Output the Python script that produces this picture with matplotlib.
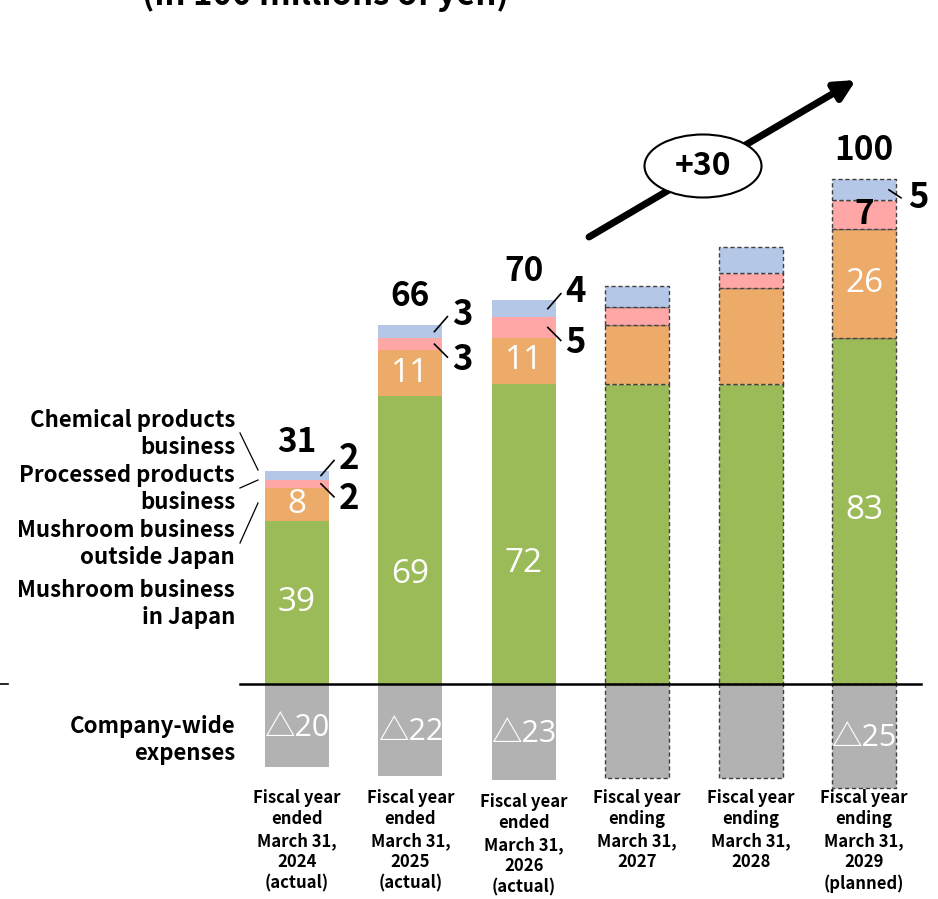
import matplotlib
matplotlib.use("Agg")
import matplotlib.pyplot as plt
from matplotlib.patches import Ellipse

plt.rcParams['font.family'] = ['Open Sans', 'Noto Sans CJK JP', 'DejaVu Sans']
BOLD = ['Noto Sans CJK JP', 'DejaVu Sans']

# data (in 100 millions of yen)
years = ["Fiscal year\nended\nMarch 31,\n2024\n(actual)",
         "Fiscal year\nended\nMarch 31,\n2025\n(actual)",
         "Fiscal year\nended\nMarch 31,\n2026\n(actual)",
         "Fiscal year\nending\nMarch 31,\n2027",
         "Fiscal year\nending\nMarch 31,\n2028",
         "Fiscal year\nending\nMarch 31,\n2029\n(planned)"]
mushroom_japan = [39, 69, 72, 72, 72, 83]
mushroom_abroad = [8, 11, 11, 14, 23, 26]
processed = [2, 3, 5, 4.5, 3.6, 7]
chemical = [2, 3, 4, 5, 6.2, 5]
expenses = [20, 22, 23, 22.5, 22.5, 25]
totals = [31, 66, 70, None, None, 100]
show_labels = [True, True, True, False, False, True]
planned = [False, False, False, True, True, True]

GREEN = "#9BBB59"
ORANGE = "#EDAB69"
PINK = "#FFA6A6"
BLUE = "#B4C7E7"
GRAY = "#B2B2B2"

# pixel helpers (figure is 938x899, baseline at y=684)
PXU = 4.17      # pixels per unit
XSTEP = 113.4   # pixels between bars
def dx(p):
    return p / XSTEP
def dy(p):
    return p / PXU
def pos(xp, yp):
    return ((xp - 297) / XSTEP, (684 - yp) / PXU)

fig = plt.figure(figsize=(9.38, 8.99), dpi=100)
ax = fig.add_axes([0, 0, 1, 1])
ax.set_xlim(-297 / XSTEP, (938 - 297) / XSTEP)
ax.set_ylim(-(899 - 684) / PXU, 684 / PXU)
ax.axis('off')

x = list(range(len(years)))
w = 64 / XSTEP

for i in x:
    if planned[i]:
        ek = dict(edgecolor="#404040", linestyle=(0, (3, 2)), linewidth=1.0)
    else:
        ek = dict(edgecolor="none", linewidth=0)
    bottom = 0
    for vals, col in [(mushroom_japan, GREEN), (mushroom_abroad, ORANGE),
                      (processed, PINK), (chemical, BLUE)]:
        ax.bar(i, vals[i], w, bottom=bottom, color=col, zorder=2, **ek)
        bottom += vals[i]
    ax.bar(i, -expenses[i], w, color=GRAY, zorder=2, **ek)

# baseline
ax.plot([pos(240, 0)[0], pos(921, 0)[0]], [0, 0], color="black", lw=1.8, zorder=3)
ax.plot([pos(0, 0)[0], pos(8, 0)[0]], [0, 0], color="black", lw=1.2, zorder=3)

green_pos = [0.5, 0.38, 0.4, 0.5, 0.5, 0.5]
for i in x:
    if not show_labels[i]:
        continue
    g, o, p, c = mushroom_japan[i], mushroom_abroad[i], processed[i], chemical[i]
    top = g + o + p + c
    ax.text(i, g * green_pos[i], f"{g}", ha="center", va="center", color="white",
            fontsize=24, zorder=4)
    ax.text(i, g + o / 2, f"{o}", ha="center", va="center", color="white",
            fontsize=24, zorder=4)
    ax.text(i, -expenses[i] / 2 - dy(2), f"△{expenses[i]}", ha="center", va="center",
            color="white", fontsize=22, zorder=4)
    ax.text(i, top + dy(29), f"{totals[i]}", ha="center", va="center",
            fontsize=24, fontweight="bold", family=BOLD, zorder=4)
    right = i + w / 2
    cy = g + o + p + c / 2
    py = g + o + p / 2
    if i == 5:
        ax.text(i, py, f"{p}", ha="center", va="center", fontsize=24,
                fontweight="bold", family=BOLD, zorder=4)
        ax.plot([right - dx(7), right + dx(5)], [cy, cy - dy(8)], color="black", lw=1.2, zorder=4)
        ax.text(right + dx(22), cy - dy(8), f"{c}", ha="center", va="center",
                fontsize=25, fontweight="bold", family=BOLD, zorder=4)
    else:
        ax.plot([right - dx(8), right + dx(5)], [cy, cy + dy(15)], color="black", lw=1.2, zorder=4)
        ax.text(right + dx(20), cy + dy(17), f"{c}", ha="center", va="center",
                fontsize=25, fontweight="bold", family=BOLD, zorder=4)
        ax.plot([right - dx(8), right + dx(5)], [py, py - dy(13)], color="black", lw=1.2, zorder=4)
        ax.text(right + dx(20), py - dy(15), f"{p}", ha="center", va="center",
                fontsize=25, fontweight="bold", family=BOLD, zorder=4)

# x labels
label_y = [789, 789, 793, 789, 789, 789]
for i in x:
    ax.text(i, pos(0, label_y[i])[1], years[i], ha="center", va="top",
            fontsize=12, fontweight="bold", family=BOLD, linespacing=1.24)

# left legend labels
legend_items = [("Chemical products\nbusiness", 434),
                ("Processed products\nbusiness", 489),
                ("Mushroom business\noutside Japan", 544),
                ("Mushroom business\nin Japan", 604),
                ("Company-wide\nexpenses", 740)]
for txt, yp in legend_items:
    lx, ly = pos(235, yp)
    ax.text(lx, ly, txt, ha="right", va="center", fontsize=16,
            fontweight="bold", family=BOLD, linespacing=1.22)
for (x0, y0), (x1, y1) in [((240, 433), (258, 470)), ((240, 488), (258, 480)),
                           ((240, 543), (258, 503))]:
    a, b = pos(x0, y0), pos(x1, y1)
    ax.plot([a[0], b[0]], [a[1], b[1]], color="black", lw=0.9)

# growth arrow with +30 bubble
ax.annotate("", xy=pos(856, 80), xytext=pos(589, 237),
            arrowprops=dict(arrowstyle="-|>,head_length=1.2,head_width=0.6",
                            color="black", lw=5, shrinkA=0, shrinkB=0), zorder=5)
ex, ey = pos(703, 166)
ax.add_patch(Ellipse((ex, ey), dx(117), dy(63), facecolor="white",
                     edgecolor="black", lw=1.5, zorder=6))
ax.text(ex, ey, "+30", ha="center", va="center", fontsize=23,
        fontweight="bold", family=BOLD, zorder=7)

# cut-off title at the top
fig.text(142 / 938, 1 - 5 / 899, "(in 100 millions of yen)", ha="left",
         va="baseline", fontsize=23.7, fontweight="bold", family=BOLD)

fig.savefig("out.png", dpi=100)
